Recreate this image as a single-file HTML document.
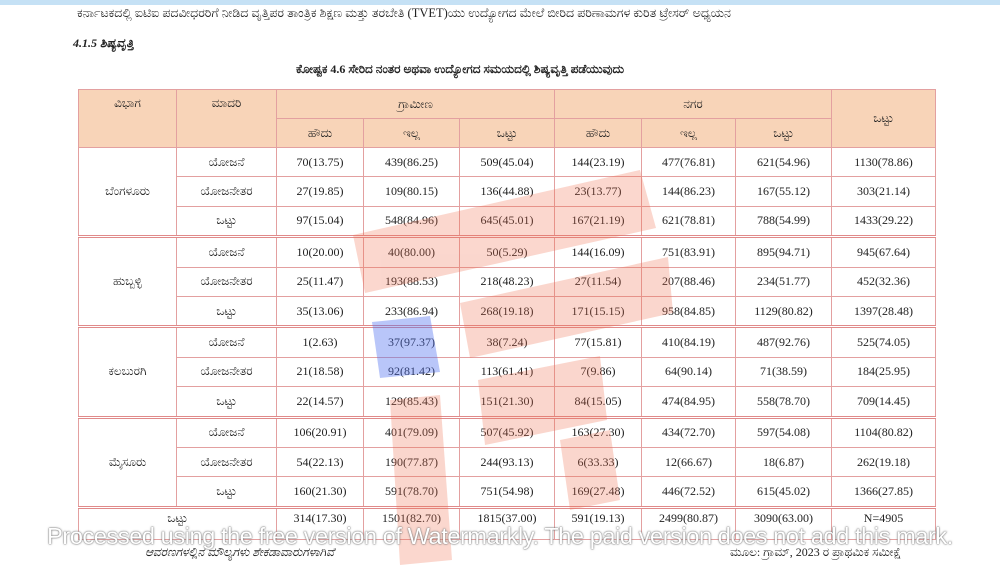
<!DOCTYPE html>
<html><head><meta charset="utf-8"><style>
body{margin:0;width:1000px;height:572px;background:#fff;position:relative;overflow:hidden;font-family:"Liberation Serif","Noto Sans CJK SC",serif;color:#222}
.bar{position:absolute;left:0;top:0;width:1000px;height:5px;background:#c5e1f5}
.t1{position:absolute;left:77px;top:6px;font-size:12.5px;white-space:nowrap}
.t2{position:absolute;left:73px;top:36px;font-size:12px;font-weight:bold;font-style:italic}
.t3{position:absolute;left:296px;top:62px;font-size:12px;font-weight:bold;white-space:nowrap}
table{position:absolute;left:78px;top:89px;border-collapse:collapse;table-layout:fixed;font-size:12px}
td{border:1px solid #e3a0a0;text-align:center;height:28.4px;padding:0}
.h td{background:#f8d4b8;height:28px;vertical-align:middle}
.g td{border-top:3px double #e08a8a}
.wm{position:absolute;left:0;top:523px;width:1000px;text-align:center;font-family:"Liberation Sans",sans-serif;font-size:23.5px;color:#fff;text-shadow:0 0 2px #777,0 0 1px #555;letter-spacing:-0.4px}
.f1{position:absolute;left:145px;top:545px;font-size:12px;font-style:italic}
.f2{position:absolute;left:730px;top:545px;font-size:12px}
svg{position:absolute;left:0;top:0}
</style></head><body>
<div class="bar"></div>
<div class="t1">ಕರ್ನಾಟಕದಲ್ಲಿ ಐಟಿಐ ಪದವೀಧರರಿಗೆ ನೀಡಿದ ವೃತ್ತಿಪರ ತಾಂತ್ರಿಕ ಶಿಕ್ಷಣ ಮತ್ತು ತರಬೇತಿ (TVET)ಯು ಉದ್ಯೋಗದ ಮೇಲೆ ಬೀರಿದ ಪರಿಣಾಮಗಳ ಕುರಿತ ಟ್ರೇಸರ್ ಅಧ್ಯಯನ</div>
<div class="t2">4.1.5 ಶಿಷ್ಯವೃತ್ತಿ</div>
<div class="t3">ಕೋಷ್ಟಕ 4.6 ಸೇರಿದ ನಂತರ ಅಥವಾ ಉದ್ಯೋಗದ ಸಮಯದಲ್ಲಿ ಶಿಷ್ಯವೃತ್ತಿ ಪಡೆಯುವುದು</div>
<table>
<colgroup><col style="width:98px"><col style="width:100px"><col style="width:87px"><col style="width:96px"><col style="width:95px"><col style="width:87px"><col style="width:94px"><col style="width:96px"><col style="width:104px"></colgroup>
<tr class="h"><td rowspan="2" style="vertical-align:top;padding-top:6px">ವಿಭಾಗ</td><td rowspan="2" style="vertical-align:top;padding-top:6px">ಮಾದರಿ</td><td colspan="3">ಗ್ರಾಮೀಣ</td><td colspan="3">ನಗರ</td><td rowspan="2">ಒಟ್ಟು</td></tr>
<tr class="h"><td>ಹೌದು</td><td>ಇಲ್ಲ</td><td>ಒಟ್ಟು</td><td>ಹೌದು</td><td>ಇಲ್ಲ</td><td>ಒಟ್ಟು</td></tr>
<tr><td rowspan="3">ಬೆಂಗಳೂರು</td><td>ಯೋಜನೆ</td><td>70(13.75)</td><td>439(86.25)</td><td>509(45.04)</td><td>144(23.19)</td><td>477(76.81)</td><td>621(54.96)</td><td>1130(78.86)</td></tr>
<tr><td>ಯೋಜನೇತರ</td><td>27(19.85)</td><td>109(80.15)</td><td>136(44.88)</td><td>23(13.77)</td><td>144(86.23)</td><td>167(55.12)</td><td>303(21.14)</td></tr>
<tr><td>ಒಟ್ಟು</td><td>97(15.04)</td><td>548(84.96)</td><td>645(45.01)</td><td>167(21.19)</td><td>621(78.81)</td><td>788(54.99)</td><td>1433(29.22)</td></tr>
<tr class="g"><td rowspan="3">ಹುಬ್ಬಳ್ಳಿ</td><td>ಯೋಜನೆ</td><td>10(20.00)</td><td>40(80.00)</td><td>50(5.29)</td><td>144(16.09)</td><td>751(83.91)</td><td>895(94.71)</td><td>945(67.64)</td></tr>
<tr><td>ಯೋಜನೇತರ</td><td>25(11.47)</td><td>193(88.53)</td><td>218(48.23)</td><td>27(11.54)</td><td>207(88.46)</td><td>234(51.77)</td><td>452(32.36)</td></tr>
<tr><td>ಒಟ್ಟು</td><td>35(13.06)</td><td>233(86.94)</td><td>268(19.18)</td><td>171(15.15)</td><td>958(84.85)</td><td>1129(80.82)</td><td>1397(28.48)</td></tr>
<tr class="g"><td rowspan="3">ಕಲಬುರಗಿ</td><td>ಯೋಜನೆ</td><td>1(2.63)</td><td>37(97.37)</td><td>38(7.24)</td><td>77(15.81)</td><td>410(84.19)</td><td>487(92.76)</td><td>525(74.05)</td></tr>
<tr><td>ಯೋಜನೇತರ</td><td>21(18.58)</td><td>92(81.42)</td><td>113(61.41)</td><td>7(9.86)</td><td>64(90.14)</td><td>71(38.59)</td><td>184(25.95)</td></tr>
<tr><td>ಒಟ್ಟು</td><td>22(14.57)</td><td>129(85.43)</td><td>151(21.30)</td><td>84(15.05)</td><td>474(84.95)</td><td>558(78.70)</td><td>709(14.45)</td></tr>
<tr class="g"><td rowspan="3">ಮೈಸೂರು</td><td>ಯೋಜನೆ</td><td>106(20.91)</td><td>401(79.09)</td><td>507(45.92)</td><td>163(27.30)</td><td>434(72.70)</td><td>597(54.08)</td><td>1104(80.82)</td></tr>
<tr><td>ಯೋಜನೇತರ</td><td>54(22.13)</td><td>190(77.87)</td><td>244(93.13)</td><td>6(33.33)</td><td>12(66.67)</td><td>18(6.87)</td><td>262(19.18)</td></tr>
<tr><td>ಒಟ್ಟು</td><td>160(21.30)</td><td>591(78.70)</td><td>751(54.98)</td><td>169(27.48)</td><td>446(72.52)</td><td>615(45.02)</td><td>1366(27.85)</td></tr>
<tr class="g"><td colspan="2" style="vertical-align:top;padding-top:2px">ಒಟ್ಟು</td><td style="vertical-align:top;padding-top:2px">314(17.30)</td><td style="vertical-align:top;padding-top:2px">1501(82.70)</td><td style="vertical-align:top;padding-top:2px">1815(37.00)</td><td style="vertical-align:top;padding-top:2px">591(19.13)</td><td style="vertical-align:top;padding-top:2px">2499(80.87)</td><td style="vertical-align:top;padding-top:2px">3090(63.00)</td><td style="vertical-align:top;padding-top:2px">N=4905</td></tr>
</table>
<svg width="1000" height="572">
<g fill="#f07050" opacity="0.28">
<polygon points="353,235 640,170 656,228 365,293"/>
<polygon points="460,303 668,257 673,313 470,358"/>
<polygon points="478,380 600,356 607,420 485,445"/>
<polygon points="390,400 440,395 452,560 400,565"/>
<polygon points="560,440 610,430 620,500 570,510"/>
</g>
<polygon points="372,322 430,316 440,372 380,378" fill="#5070f0" opacity="0.4"/>
</svg>
<div class="wm">Processed using the free version of Watermarkly. The paid version does not add this mark.</div>
<div class="f1">ಆವರಣಗಳಲ್ಲಿನ ಮೌಲ್ಯಗಳು ಶೇಕಡಾವಾರುಗಳಾಗಿವೆ</div>
<div class="f2">ಮೂಲ: ಗ್ರಾಮ್, 2023 ರ ಪ್ರಾಥಮಿಕ ಸಮೀಕ್ಷೆ</div>
</body></html>
